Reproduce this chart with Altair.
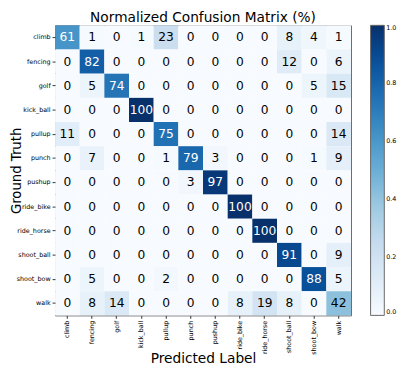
import altair as alt
import pandas as pd

labels = ["climb", "fencing", "golf", "kick_ball", "pullup", "punch", "pushup",
          "ride_bike", "ride_horse", "shoot_ball", "shoot_bow", "walk"]

row_climb      = [61, 1, 0, 1, 23, 0, 0, 0, 0, 8, 4, 1]
row_fencing    = [0, 82, 0, 0, 0, 0, 0, 0, 0, 12, 0, 6]
row_golf       = [0, 5, 74, 0, 0, 0, 0, 0, 0, 0, 5, 15]
row_kick_ball  = [0, 0, 0, 100, 0, 0, 0, 0, 0, 0, 0, 0]
row_pullup     = [11, 0, 0, 0, 75, 0, 0, 0, 0, 0, 0, 14]
row_punch      = [0, 7, 0, 0, 1, 79, 3, 0, 0, 0, 1, 9]
row_pushup     = [0, 0, 0, 0, 0, 3, 97, 0, 0, 0, 0, 0]
row_ride_bike  = [0, 0, 0, 0, 0, 0, 0, 100, 0, 0, 0, 0]
row_ride_horse = [0, 0, 0, 0, 0, 0, 0, 0, 100, 0, 0, 0]
row_shoot_ball = [0, 0, 0, 0, 0, 0, 0, 0, 0, 91, 0, 9]
row_shoot_bow  = [0, 5, 0, 0, 2, 0, 0, 0, 0, 0, 88, 5]
row_walk       = [0, 8, 14, 0, 0, 0, 0, 8, 19, 8, 0, 42]

rows = [row_climb, row_fencing, row_golf, row_kick_ball, row_pullup, row_punch,
        row_pushup, row_ride_bike, row_ride_horse, row_shoot_ball, row_shoot_bow, row_walk]

colorbar_ticks = [0.0, 0.2, 0.4, 0.6, 0.8, 1.0]

blues = ["#f7fbff", "#deebf7", "#c6dbef", "#9ecae1", "#6baed6",
         "#4292c6", "#2171b5", "#08519c", "#08306b"]
blues_domain = [i / 8 for i in range(9)]

records = []
for t, r in zip(labels, rows):
    for p, v in zip(labels, r):
        records.append({"truth": t, "pred": p, "v": v, "frac": v / 100})
df = pd.DataFrame(records)

FONT = "DejaVu Sans"
W, H = 302, 296

x_enc = alt.X("pred:N", sort=labels,
              scale=alt.Scale(paddingInner=0, paddingOuter=0),
              axis=alt.Axis(title="Predicted Label", labelAngle=270, labelAlign="right",
                            labelBaseline="middle", labelFontSize=6.5, labelFont=FONT,
                            labelColor="black", tickSize=3, tickColor="#333",
                            labelPadding=2, domain=False,
                            titleFont=FONT, titleFontSize=14, titleFontWeight="normal",
                            titleColor="black", titleY=48, titleBaseline="alphabetic"))
y_enc = alt.Y("truth:N", sort=labels,
              scale=alt.Scale(paddingInner=0, paddingOuter=0),
              axis=alt.Axis(title="Ground Truth", labelFontSize=6.5, labelFont=FONT,
                            labelColor="black", tickSize=3, tickColor="#333",
                            labelPadding=2, domain=False,
                            titleFont=FONT, titleFontSize=13.5, titleFontWeight="normal",
                            titleColor="black", titleX=-35, titleAngle=270,
                            titleBaseline="alphabetic"))

rect = alt.Chart(df).mark_rect().encode(
    x=x_enc,
    y=y_enc,
    color=alt.Color("frac:Q",
                    scale=alt.Scale(domain=blues_domain, range=blues, interpolate="rgb"),
                    legend=alt.Legend(title=None, orient="none", legendX=W + 20, legendY=0,
                                      direction="vertical", gradientLength=H,
                                      gradientThickness=14, values=colorbar_ticks,
                                      format=".1f", labelFontSize=6.5, labelFont=FONT,
                                      labelColor="black", labelOffset=2,
                                      gradientStrokeColor="#666", gradientStrokeWidth=1)),
)

text = alt.Chart(df).mark_text(font=FONT, fontSize=12.5, baseline="middle", align="center").encode(
    x=alt.X("pred:N", sort=labels),
    y=alt.Y("truth:N", sort=labels),
    text=alt.Text("v:Q"),
    color=alt.condition(alt.datum.v > 50, alt.value("white"), alt.value("black")),
)

chart = (rect + text).properties(
    width=W, height=H,
    title=alt.TitleParams("Normalized Confusion Matrix (%)", font=FONT, fontSize=14,
                          fontWeight="normal", color="black", anchor="middle",
                          baseline="alphabetic", offset=2, dy=13),
    autosize=alt.AutoSizeParams(type="none"),
    padding={"left": 48, "top": 14, "right": 49, "bottom": 51},
).configure_view(stroke="#666", strokeWidth=1)

chart.save("out.html", embed_options={"renderer": "svg", "actions": False})
